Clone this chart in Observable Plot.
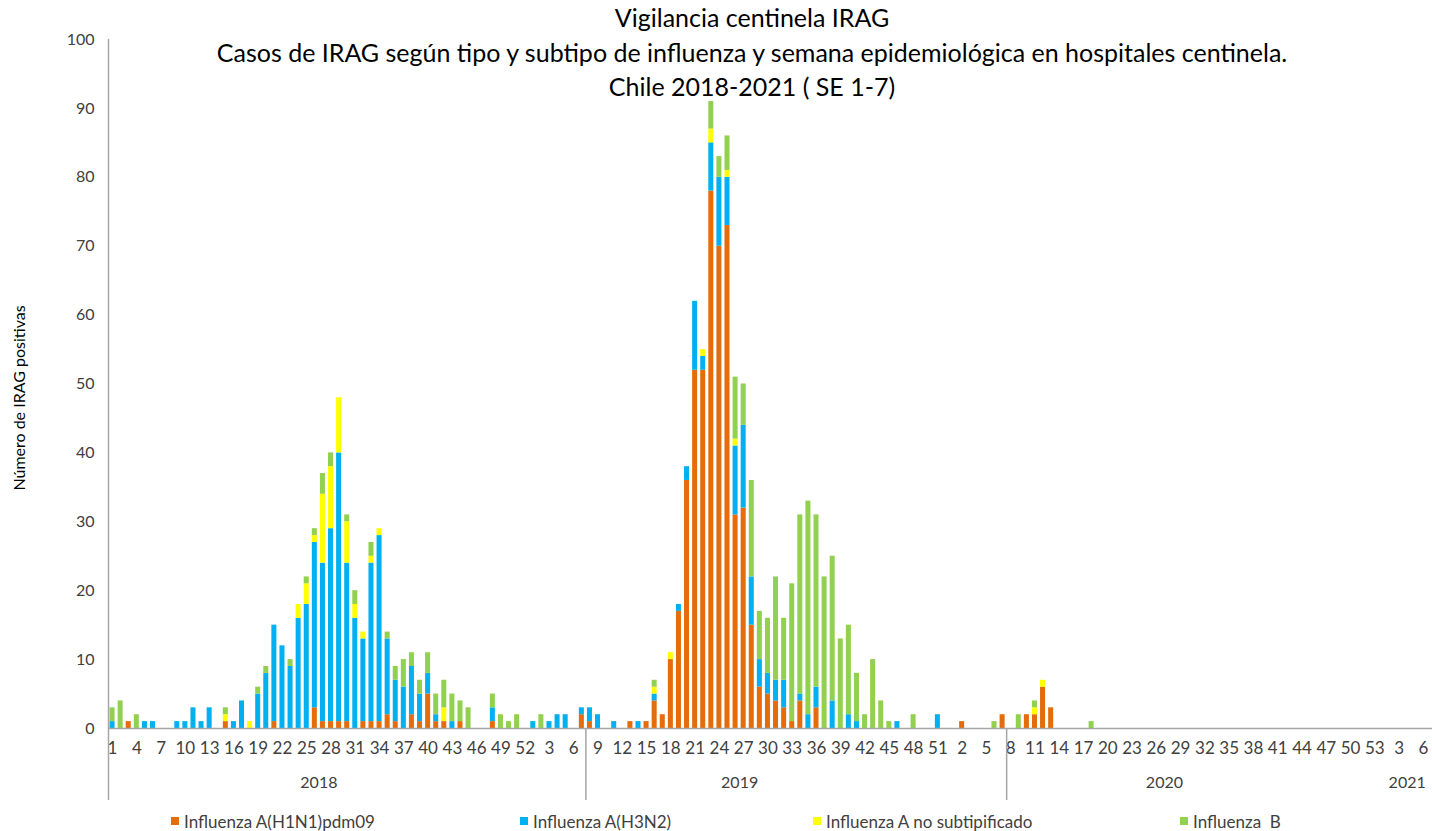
<!DOCTYPE html>
<html>
<head>
<meta charset="utf-8">
<script src="https://cdn.jsdelivr.net/npm/d3@7"></script>
<script src="https://cdn.jsdelivr.net/npm/@observablehq/plot@0.6"></script>
<style>
  html, body { margin: 0; padding: 0; background: #fff; overflow: hidden; }
  #wrap { position: relative; width: 1432px; height: 831px; font-family: Lato, "Open Sans", sans-serif; }
  #chart { position: absolute; left: 0; top: 0; }
  #title { position: absolute; top: 0px; left: 0; width: 1504px; text-align: center; font-size: 25px; line-height: 34.5px; color: #000; }
  #ytitle { position: absolute; left: 18px; top: 398px; transform: translate(-50%, -50%) rotate(-90deg); white-space: nowrap; font-size: 16px; color: #000; }
  .lg { position: absolute; top: 812px; height: 18px; display: flex; align-items: center; font-size: 17px; color: #404040; white-space: nowrap; }
  .lg span.sw { display: inline-block; width: 8px; height: 8px; margin-right: 5px; }
</style>
</head>
<body>
<div id="wrap">
  <div id="chart"></div>
  <div id="title"></div>
  <div id="ytitle"></div>
  <div id="legend"></div>
</div>
<script>
// ---- data ----
const titleLines = [
  "Vigilancia centinela IRAG",
  "Casos de IRAG según tipo y subtipo de influenza y semana epidemiológica en hospitales centinela.",
  "Chile 2018-2021 ( SE 1-7)"
];
const yTitle = "Número de IRAG positivas";
const years = [2018, 2019, 2020, 2021];
const weeksPerYear = [52, 52, 53, 7];
// category index where the reference draws its year separators
const separatorAt = [59, 111];

const series = ["Influenza A(H1N1)pdm09", "Influenza A(H3N2)", "Influenza A no subtipificado", "Influenza  B"];
const colors = ["#E46C0A", "#00B0F0", "#FFFF00", "#92D050"];

// values per epidemiological week: 2018 (52), 2019 (52), 2020 (53), 2021 (7)
const h1n1 = [
  0,0,1,0,0,0,0,0,0,0, 0,0,0,0,1,0,0,0,0,0, 1,0,0,0,0,3,1,1,1,1, 0,1,1,1,2,1,0,2,1,5, 1,1,0,1,0,0,0,1,0,0, 0,0,
  0,0,0,0,0,0,2,1,0,0, 0,0,1,0,1,4,2,10,17,36, 52,52,78,70,73,31,32,15,6,5, 4,3,1,4,0,3,0,0,0,0, 0,0,0,0,0,0,0,0,0,0, 0,0,
  0,1,0,0,0,0,2,0,0,2, 2,6,3,0,0,0,0,0,0,0, 0,0,0,0,0,0,0,0,0,0, 0,0,0,0,0,0,0,0,0,0, 0,0,0,0,0,0,0,0,0,0, 0,0,0,
  0,0,0,0,0,0,0
];
const h3n2 = [
  1,0,0,0,1,1,0,0,1,1, 3,1,3,0,0,1,4,0,5,8, 14,12,9,16,18,24,23,28,39,23, 16,12,23,27,11,6,6,7,4,3, 1,0,1,0,0,0,0,2,0,0, 0,0,
  1,0,1,2,2,0,1,2,2,0, 1,0,0,1,0,1,0,0,1,2, 10,2,7,10,7,10,12,7,4,3, 3,4,0,1,2,3,0,4,0,2, 1,0,0,0,0,1,0,0,0,0, 2,0,
  0,0,0,0,0,0,0,0,0,0, 0,0,0,0,0,0,0,0,0,0, 0,0,0,0,0,0,0,0,0,0, 0,0,0,0,0,0,0,0,0,0, 0,0,0,0,0,0,0,0,0,0, 0,0,0,
  0,0,0,0,0,0,0
];
const noSub = [
  0,0,0,0,0,0,0,0,0,0, 0,0,0,0,1,0,0,1,0,0, 0,0,0,2,3,1,10,9,8,6, 2,1,1,1,0,0,0,0,0,0, 0,2,0,0,0,0,0,0,0,0, 0,0,
  0,0,0,0,0,0,0,0,0,0, 0,0,0,0,0,1,0,1,0,0, 0,1,2,0,1,1,0,0,0,0, 0,0,0,0,0,0,0,0,0,0, 0,0,0,0,0,0,0,0,0,0, 0,0,
  0,0,0,0,0,0,0,0,0,0, 1,1,0,0,0,0,0,0,0,0, 0,0,0,0,0,0,0,0,0,0, 0,0,0,0,0,0,0,0,0,0, 0,0,0,0,0,0,0,0,0,0, 0,0,0,
  0,0,0,0,0,0,0
];
const fluB = [
  2,4,0,2,0,0,0,0,0,0, 0,0,0,0,1,0,0,0,1,1, 0,0,1,0,1,1,3,2,0,1, 2,0,2,0,1,2,4,2,2,3, 3,4,4,3,3,0,0,2,2,1, 2,0,
  0,2,0,0,0,0,0,0,0,0, 0,0,0,0,0,1,0,0,0,0, 0,0,4,3,5,9,6,14,7,8, 15,9,20,26,31,25,22,21,13,13, 7,2,10,4,1,0,0,2,0,0, 0,0,
  0,0,0,0,0,1,0,0,2,0, 1,0,0,0,0,0,0,1,0,0, 0,0,0,0,0,0,0,0,0,0, 0,0,0,0,0,0,0,0,0,0, 0,0,0,0,0,0,0,0,0,0, 0,0,0,
  0,0,0,0,0,0,0
];
const seriesValues = [h1n1, h3n2, noSub, fluB];

// ---- build tables ----
const weekLabels = [];
const groups = [];
years.forEach((y, k) => {
  const start = weekLabels.length;
  for (let w = 1; w <= weeksPerYear[k]; w++) weekLabels.push(String(w));
  groups.push({year: String(y), start, n: weeksPerYear[k]});
});
const idx = d3.range(weekLabels.length);
const rows = [];
series.forEach((s, k) => seriesValues[k].forEach((v, i) => rows.push({i, serie: s, v})));

const xRange = [108, 1435];
const step = (xRange[1] - xRange[0]) / idx.length;
const axisColor = "#A6A6A6";

const groupMarks = groups.map(g => {
  const c = g.start + (g.n - 1) / 2;
  return Plot.text([g], {
    x: () => Math.floor(c), text: "year", frameAnchor: "bottom",
    dy: 59, dx: (c - Math.floor(c)) * step, fontSize: 16, fill: "#404040"
  });
});

const chart = Plot.plot({
  width: 1432,
  height: 808,
  marginTop: 39,
  marginBottom: 80,
  marginLeft: 108,
  marginRight: 0,
  style: {fontFamily: "Lato, 'Open Sans', sans-serif", fontSize: "16px", color: "#404040", background: "transparent"},
  x: {
    type: "band", domain: idx, range: xRange, round: false, paddingInner: 0.38, paddingOuter: 0.19,
    tickSize: 0, tickPadding: 13, label: null,
    tickFormat: i => (i % 3 === 0 ? weekLabels[i] : "")
  },
  y: {domain: [0, 100], ticks: 10, tickSize: 0, tickPadding: 14, label: null},
  color: {domain: series, range: colors},
  marks: [
    Plot.barY(rows, {x: "i", y: "v", fill: "serie", order: series}),
    Plot.ruleY([0], {stroke: axisColor, strokeWidth: 1.5}),
    Plot.ruleX([0], {dx: -step / 2, stroke: axisColor, strokeWidth: 1.5, insetBottom: -72}),
    Plot.ruleX(separatorAt, {dx: -step / 2, stroke: axisColor, strokeWidth: 1.5, insetTop: 689, insetBottom: -72}),
    ...groupMarks
  ]
});
document.getElementById("chart").appendChild(chart);
d3.select(chart).selectAll("g[aria-label='x-axis tick label'] text, g[aria-label='x-axis'] text").style("font-size", "17px");

// title, y-axis title, legend
document.getElementById("title").innerHTML = titleLines.map(t => `<div>${t}</div>`).join("");
document.getElementById("ytitle").textContent = yTitle;
const legendLeft = [171, 520, 813, 1180];
document.getElementById("legend").innerHTML = series.map((s, k) =>
  `<div class="lg" style="left:${legendLeft[k]}px"><span class="sw" style="background:${colors[k]}"></span>${s.replace(/ /g, "&nbsp;")}</div>`
).join("");
</script>
</body>
</html>
